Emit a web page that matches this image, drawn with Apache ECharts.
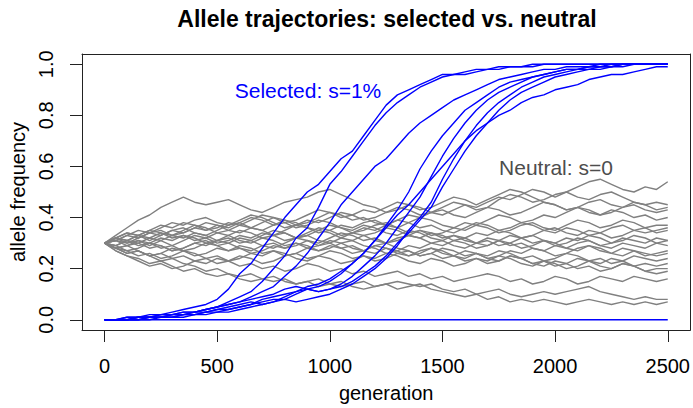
<!DOCTYPE html>
<html>
<head>
<meta charset="utf-8">
<title>Allele trajectories</title>
<script src="https://cdn.jsdelivr.net/npm/echarts@6/dist/echarts.min.js"></script>
<style>
  html, body { margin: 0; padding: 0; background: #fff; }
  #chart { width: 693px; height: 408px; }
</style>
</head>
<body>
<div id="chart"></div>
<script>
// generations sampled every 50
const generations = [
  0, 50, 100, 150, 200, 250, 300, 350, 400, 450,
  500, 550, 600, 650, 700, 750, 800, 850, 900, 950,
  1000, 1050, 1100, 1150, 1200, 1250, 1300, 1350, 1400, 1450,
  1500, 1550, 1600, 1650, 1700, 1750, 1800, 1850, 1900, 1950,
  2000, 2050, 2100, 2150, 2200, 2250, 2300, 2350, 2400, 2450,
  2500
];
const xTicks = [0, 500, 1000, 1500, 2000, 2500];
const yTicks = [0, 0.2, 0.4, 0.6, 0.8, 1.0];

// neutral runs (s = 0), start at 0.3
const neutral01 = [0.30,0.33,0.36,0.39,0.41,0.44,0.46,0.48,0.46,0.45, 0.46,0.47,0.45,0.43,0.42,0.44,0.46,0.47,0.48,0.50, 0.51,0.49,0.47,0.45,0.44,0.42,0.43,0.45,0.44,0.42, 0.41,0.43,0.45,0.44,0.46,0.48,0.47,0.49,0.51,0.50, 0.48,0.50,0.52,0.54,0.55,0.53,0.51,0.50,0.52,0.51, 0.54];
const neutral02 = [0.30,0.31,0.33,0.35,0.34,0.36,0.38,0.37,0.39,0.40, 0.38,0.37,0.39,0.41,0.40,0.38,0.36,0.37,0.39,0.38, 0.40,0.42,0.41,0.39,0.40,0.42,0.44,0.43,0.41,0.42, 0.44,0.46,0.45,0.43,0.44,0.47,0.49,0.48,0.46,0.47, 0.49,0.50,0.48,0.47,0.49,0.50,0.48,0.46,0.45,0.46, 0.45];
const neutral03 = [0.30,0.29,0.31,0.33,0.32,0.34,0.33,0.35,0.37,0.36, 0.34,0.35,0.37,0.36,0.38,0.40,0.39,0.37,0.38,0.40, 0.42,0.41,0.39,0.40,0.38,0.37,0.39,0.41,0.40,0.42, 0.43,0.41,0.40,0.42,0.44,0.43,0.41,0.42,0.44,0.46, 0.45,0.43,0.44,0.46,0.47,0.45,0.44,0.46,0.45,0.43, 0.44];
const neutral04 = [0.30,0.32,0.31,0.29,0.30,0.32,0.31,0.33,0.32,0.30, 0.31,0.33,0.35,0.34,0.32,0.33,0.35,0.37,0.36,0.34, 0.35,0.37,0.36,0.38,0.39,0.37,0.36,0.38,0.40,0.39, 0.37,0.36,0.38,0.37,0.39,0.41,0.40,0.38,0.39,0.41, 0.40,0.42,0.44,0.43,0.41,0.42,0.44,0.45,0.43,0.42, 0.43];
const neutral05 = [0.30,0.31,0.30,0.32,0.34,0.33,0.35,0.36,0.34,0.33, 0.35,0.37,0.38,0.36,0.35,0.37,0.39,0.38,0.36,0.35, 0.37,0.36,0.34,0.35,0.37,0.38,0.36,0.34,0.35,0.33, 0.34,0.36,0.35,0.37,0.36,0.34,0.35,0.37,0.38,0.36, 0.35,0.37,0.39,0.38,0.36,0.37,0.39,0.38,0.36,0.37, 0.37];
const neutral06 = [0.30,0.28,0.29,0.31,0.30,0.28,0.29,0.31,0.33,0.32, 0.30,0.31,0.33,0.32,0.34,0.33,0.31,0.32,0.34,0.36, 0.35,0.33,0.34,0.36,0.35,0.37,0.39,0.38,0.36,0.37, 0.35,0.34,0.36,0.38,0.37,0.35,0.36,0.38,0.37,0.35, 0.34,0.36,0.35,0.33,0.34,0.36,0.37,0.35,0.34,0.35, 0.36];
const neutral07 = [0.30,0.32,0.34,0.33,0.31,0.33,0.35,0.34,0.36,0.38, 0.37,0.35,0.34,0.36,0.35,0.33,0.34,0.32,0.33,0.35, 0.34,0.32,0.31,0.33,0.34,0.36,0.35,0.33,0.32,0.34, 0.33,0.31,0.32,0.34,0.33,0.35,0.34,0.32,0.33,0.35, 0.36,0.34,0.33,0.35,0.34,0.32,0.33,0.35,0.36,0.34, 0.35];
const neutral08 = [0.30,0.29,0.27,0.28,0.30,0.29,0.27,0.28,0.30,0.31, 0.29,0.30,0.32,0.31,0.29,0.30,0.28,0.29,0.31,0.30, 0.32,0.34,0.33,0.31,0.32,0.30,0.31,0.33,0.32,0.30, 0.29,0.31,0.30,0.28,0.29,0.31,0.33,0.32,0.30,0.31, 0.29,0.30,0.32,0.31,0.29,0.30,0.32,0.31,0.30,0.32, 0.31];
const neutral09 = [0.30,0.31,0.29,0.30,0.32,0.31,0.29,0.27,0.28,0.30, 0.29,0.27,0.28,0.26,0.27,0.29,0.28,0.30,0.29,0.27, 0.28,0.30,0.31,0.29,0.28,0.26,0.27,0.29,0.28,0.30, 0.31,0.29,0.28,0.30,0.32,0.31,0.29,0.30,0.28,0.27, 0.29,0.28,0.30,0.31,0.29,0.28,0.30,0.29,0.28,0.30, 0.29];
const neutral10 = [0.30,0.28,0.26,0.27,0.25,0.26,0.28,0.27,0.25,0.26, 0.28,0.27,0.29,0.28,0.26,0.27,0.25,0.26,0.28,0.27, 0.29,0.28,0.26,0.27,0.29,0.30,0.28,0.27,0.25,0.26, 0.28,0.27,0.25,0.26,0.24,0.25,0.27,0.26,0.28,0.27, 0.25,0.26,0.28,0.29,0.27,0.26,0.28,0.27,0.25,0.26, 0.27];
const neutral11 = [0.30,0.31,0.33,0.32,0.34,0.35,0.33,0.34,0.36,0.35, 0.37,0.36,0.38,0.40,0.39,0.37,0.38,0.36,0.37,0.39, 0.38,0.36,0.35,0.37,0.36,0.34,0.33,0.35,0.34,0.32, 0.31,0.33,0.32,0.30,0.29,0.31,0.30,0.28,0.29,0.31, 0.30,0.28,0.27,0.29,0.28,0.26,0.25,0.27,0.26,0.25, 0.26];
const neutral12 = [0.30,0.29,0.31,0.30,0.28,0.29,0.27,0.28,0.30,0.29, 0.31,0.30,0.28,0.27,0.29,0.28,0.30,0.32,0.31,0.29, 0.30,0.28,0.29,0.27,0.26,0.28,0.27,0.25,0.26,0.28, 0.27,0.25,0.24,0.26,0.25,0.27,0.26,0.24,0.25,0.23, 0.24,0.26,0.25,0.23,0.24,0.22,0.23,0.25,0.24,0.23, 0.24];
const neutral13 = [0.30,0.28,0.27,0.25,0.26,0.24,0.25,0.27,0.26,0.24, 0.25,0.23,0.24,0.26,0.25,0.27,0.26,0.24,0.23,0.25, 0.24,0.22,0.23,0.25,0.24,0.26,0.25,0.23,0.22,0.24, 0.23,0.21,0.22,0.24,0.23,0.25,0.24,0.22,0.21,0.23, 0.22,0.20,0.21,0.23,0.22,0.24,0.23,0.21,0.22,0.21, 0.22];
const neutral14 = [0.30,0.27,0.25,0.23,0.21,0.22,0.20,0.21,0.23,0.22, 0.24,0.23,0.25,0.24,0.22,0.23,0.25,0.26,0.24,0.25, 0.27,0.26,0.24,0.25,0.23,0.24,0.26,0.25,0.27,0.28, 0.26,0.25,0.27,0.26,0.24,0.23,0.25,0.24,0.22,0.23, 0.21,0.22,0.24,0.23,0.21,0.20,0.22,0.21,0.19,0.20, 0.20];
const neutral15 = [0.30,0.32,0.31,0.33,0.35,0.34,0.32,0.33,0.31,0.32, 0.34,0.33,0.31,0.30,0.32,0.31,0.29,0.30,0.28,0.29, 0.31,0.30,0.28,0.27,0.29,0.28,0.26,0.27,0.25,0.26, 0.24,0.25,0.23,0.24,0.22,0.23,0.25,0.24,0.22,0.21, 0.23,0.22,0.20,0.21,0.19,0.20,0.22,0.21,0.19,0.18, 0.19];
const neutral16 = [0.30,0.28,0.29,0.27,0.25,0.26,0.24,0.25,0.23,0.24, 0.22,0.23,0.21,0.22,0.20,0.21,0.19,0.20,0.22,0.21, 0.19,0.20,0.18,0.19,0.17,0.18,0.19,0.17,0.18,0.16, 0.17,0.15,0.16,0.17,0.18,0.17,0.15,0.16,0.14,0.15, 0.17,0.16,0.14,0.15,0.17,0.16,0.15,0.17,0.16,0.15, 0.16];
const neutral17 = [0.30,0.27,0.25,0.24,0.22,0.23,0.21,0.19,0.20,0.18, 0.17,0.18,0.16,0.15,0.16,0.17,0.15,0.14,0.15,0.16, 0.14,0.13,0.14,0.15,0.13,0.14,0.15,0.14,0.13,0.14, 0.12,0.11,0.12,0.10,0.11,0.12,0.10,0.09,0.10,0.11, 0.10,0.11,0.12,0.13,0.11,0.10,0.09,0.08,0.09,0.08, 0.08];
const neutral18 = [0.30,0.28,0.26,0.27,0.25,0.23,0.24,0.22,0.21,0.19, 0.20,0.18,0.17,0.18,0.16,0.15,0.16,0.14,0.15,0.13, 0.14,0.15,0.13,0.12,0.13,0.14,0.12,0.13,0.14,0.12, 0.11,0.10,0.09,0.10,0.08,0.09,0.07,0.08,0.07,0.08, 0.07,0.06,0.07,0.08,0.07,0.06,0.07,0.06,0.07,0.06, 0.07];
const neutral19 = [0.30,0.32,0.30,0.31,0.29,0.31,0.33,0.32,0.34,0.33, 0.31,0.32,0.30,0.31,0.33,0.35,0.34,0.32,0.33,0.31, 0.30,0.32,0.34,0.33,0.31,0.30,0.32,0.33,0.35,0.34, 0.32,0.33,0.31,0.30,0.31,0.29,0.30,0.32,0.33,0.31, 0.30,0.32,0.31,0.33,0.32,0.30,0.31,0.33,0.32,0.30, 0.31];
const neutral20 = [0.30,0.32,0.34,0.33,0.35,0.37,0.36,0.38,0.37,0.35, 0.36,0.38,0.37,0.39,0.41,0.40,0.38,0.39,0.41,0.43, 0.42,0.40,0.41,0.43,0.42,0.44,0.46,0.45,0.43,0.44, 0.46,0.48,0.47,0.45,0.47,0.49,0.51,0.50,0.48,0.46, 0.45,0.43,0.44,0.42,0.41,0.43,0.42,0.40,0.41,0.39, 0.40];

// selected runs (s = 1%), start near 0
const selectedA = [0.00,0.00,0.01,0.01,0.02,0.02,0.03,0.04,0.05,0.06, 0.08,0.12,0.18,0.22,0.28,0.34,0.40,0.45,0.50,0.53, 0.58,0.63,0.66,0.72,0.78,0.84,0.88,0.90,0.92,0.94, 0.96,0.96,0.97,0.98,0.98,0.99,0.99,0.99,1.00,1.00, 1.00,1.00,1.00,1.00,1.00,1.00,1.00,1.00,1.00,1.00, 1.00];
const selectedB = [0.00,0.00,0.01,0.01,0.01,0.02,0.02,0.03,0.03,0.04, 0.05,0.07,0.09,0.11,0.15,0.20,0.25,0.32,0.36,0.44, 0.53,0.58,0.64,0.70,0.76,0.81,0.85,0.88,0.91,0.93, 0.95,0.96,0.96,0.97,0.98,0.98,0.99,0.99,0.99,1.00, 1.00,1.00,1.00,1.00,1.00,1.00,1.00,1.00,1.00,1.00, 1.00];
const selectedC = [0.00,0.00,0.00,0.01,0.01,0.01,0.02,0.02,0.03,0.04, 0.05,0.06,0.07,0.09,0.11,0.13,0.17,0.21,0.26,0.32, 0.38,0.45,0.50,0.55,0.60,0.63,0.68,0.73,0.77,0.80, 0.83,0.86,0.88,0.90,0.92,0.94,0.95,0.96,0.97,0.98, 0.98,0.99,0.99,0.99,1.00,1.00,1.00,1.00,1.00,1.00, 1.00];
const selectedD = [0.00,0.00,0.00,0.00,0.01,0.01,0.01,0.02,0.02,0.03, 0.03,0.04,0.05,0.06,0.07,0.08,0.08,0.10,0.12,0.13, 0.15,0.18,0.22,0.26,0.31,0.37,0.43,0.50,0.59,0.66, 0.72,0.77,0.82,0.85,0.88,0.91,0.93,0.94,0.95,0.96, 0.97,0.98,0.98,0.99,0.99,1.00,1.00,1.00,1.00,1.00, 1.00];
const selectedE = [0.00,0.00,0.00,0.01,0.01,0.01,0.02,0.02,0.03,0.03, 0.04,0.05,0.06,0.07,0.06,0.07,0.09,0.11,0.12,0.11, 0.12,0.14,0.17,0.21,0.25,0.30,0.36,0.42,0.48,0.56, 0.64,0.71,0.77,0.82,0.86,0.89,0.91,0.93,0.95,0.96, 0.97,0.98,0.98,0.99,0.99,0.99,1.00,1.00,1.00,1.00, 1.00];
const selectedF = [0.00,0.00,0.00,0.00,0.00,0.01,0.01,0.01,0.02,0.02, 0.03,0.03,0.04,0.05,0.06,0.07,0.08,0.07,0.08,0.09, 0.10,0.12,0.14,0.17,0.20,0.24,0.29,0.35,0.40,0.46, 0.55,0.63,0.70,0.76,0.81,0.85,0.88,0.91,0.93,0.95, 0.96,0.97,0.98,0.98,0.99,0.99,1.00,1.00,1.00,1.00, 1.00];
const selectedG = [0.00,0.00,0.00,0.01,0.01,0.02,0.02,0.03,0.03,0.04, 0.05,0.06,0.07,0.08,0.09,0.10,0.12,0.13,0.12,0.11, 0.12,0.13,0.15,0.18,0.21,0.25,0.30,0.34,0.39,0.44, 0.52,0.59,0.66,0.72,0.77,0.82,0.86,0.89,0.91,0.93, 0.95,0.96,0.97,0.98,0.98,0.99,0.99,1.00,1.00,1.00, 1.00];
const selectedH = [0.00,0.00,0.00,0.00,0.01,0.01,0.01,0.02,0.02,0.03, 0.04,0.04,0.05,0.06,0.08,0.09,0.10,0.11,0.13,0.14, 0.16,0.19,0.22,0.26,0.31,0.36,0.41,0.45,0.50,0.55, 0.60,0.65,0.70,0.74,0.77,0.80,0.82,0.85,0.87,0.88, 0.90,0.91,0.92,0.94,0.95,0.96,0.96,0.97,0.98,0.99, 0.99];
const selectedLost = [0,0,0,0,0,0,0,0,0,0, 0,0,0,0,0,0,0,0,0,0, 0,0,0,0,0,0,0,0,0,0, 0,0,0,0,0,0,0,0,0,0, 0,0,0,0,0,0,0,0,0,0, 0];

const neutralRuns = [neutral01, neutral02, neutral03, neutral04, neutral05, neutral06, neutral07,
  neutral08, neutral09, neutral10, neutral11, neutral12, neutral13, neutral14, neutral15,
  neutral16, neutral17, neutral18, neutral19, neutral20];
const selectedRuns = [selectedA, selectedB, selectedC, selectedD, selectedE, selectedF,
  selectedG, selectedH, selectedLost];

const FONT = '"Liberation Sans", Arial, Helvetica, sans-serif';
const BOX = '#222';

function toSeries(runs, color, name) {
  return runs.map(function (vals, i) {
    return {
      name: name + ' ' + (i + 1),
      type: 'line',
      symbol: 'none',
      silent: true,
      xAxisIndex: 0,
      yAxisIndex: 0,
      lineStyle: { color: color, width: 1.4 },
      data: generations.map(function (g, k) { return [g, vals[k]]; })
    };
  });
}

// plain axis used for the top / right sides of the box
function boxSide(position) {
  return {
    type: 'value', position: position,
    min: position === 'top' || position === 'bottom' ? -100 : -0.04,
    max: position === 'top' || position === 'bottom' ? 2600 : 1.04,
    axisLine: { show: true, onZero: false, lineStyle: { color: BOX, width: 1 } },
    axisTick: { show: false }, axisLabel: { show: false }, splitLine: { show: false }
  };
}

const chart = echarts.init(document.getElementById('chart'), null, { renderer: 'svg' });

chart.setOption({
  animation: false,
  backgroundColor: '#ffffff',
  textStyle: { fontFamily: FONT },
  grid: { left: 82, right: 1, top: 54, bottom: 77 },
  xAxis: [{
    type: 'value',
    position: 'bottom',
    min: -100, max: 2600,
    name: 'generation',
    nameLocation: 'middle',
    nameGap: 53,
    nameTextStyle: { fontSize: 20, color: '#000', fontFamily: FONT },
    axisLine: { show: true, onZero: false, lineStyle: { color: BOX, width: 1 } },
    axisTick: { show: true, inside: false, length: 12, customValues: xTicks, lineStyle: { color: BOX } },
    axisLabel: {
      customValues: xTicks, fontSize: 20, color: '#000', margin: 26, fontFamily: FONT,
      formatter: function (v) { return String(v); }
    },
    splitLine: { show: false }
  }, boxSide('top')],
  yAxis: [{
    type: 'value',
    position: 'left',
    min: -0.04, max: 1.04,
    name: 'allele frequency',
    nameLocation: 'middle',
    nameGap: 54,
    nameRotate: 90,
    nameTextStyle: { fontSize: 20, color: '#000', fontFamily: FONT },
    axisLine: { show: true, onZero: false, lineStyle: { color: BOX, width: 1 } },
    axisTick: { show: true, inside: false, length: 12, customValues: yTicks, lineStyle: { color: BOX } },
    axisLabel: {
      customValues: yTicks, fontSize: 20, color: '#000', margin: 26, rotate: 90, fontFamily: FONT,
      formatter: function (v) { return v.toFixed(1); }
    },
    splitLine: { show: false }
  }, boxSide('right')],
  graphic: [
    {
      type: 'text', x: 387, y: 19,
      style: { text: 'Allele trajectories: selected vs. neutral', font: 'bold 23px ' + FONT,
        fill: '#000', align: 'center', verticalAlign: 'middle' }
    },
    {
      type: 'text', x: 308, y: 90, z: 100,
      style: { text: 'Selected: s=1%', font: '21px ' + FONT, fill: '#0000ff', align: 'center', verticalAlign: 'middle' }
    },
    {
      type: 'text', x: 556, y: 167, z: 100,
      style: { text: 'Neutral: s=0', font: '21px ' + FONT, fill: '#4d4d4d', align: 'center', verticalAlign: 'middle' }
    }
  ],
  series: toSeries(neutralRuns, '#808080', 'neutral').concat(toSeries(selectedRuns, '#0000ff', 'selected'))
});
</script>
</body>
</html>
